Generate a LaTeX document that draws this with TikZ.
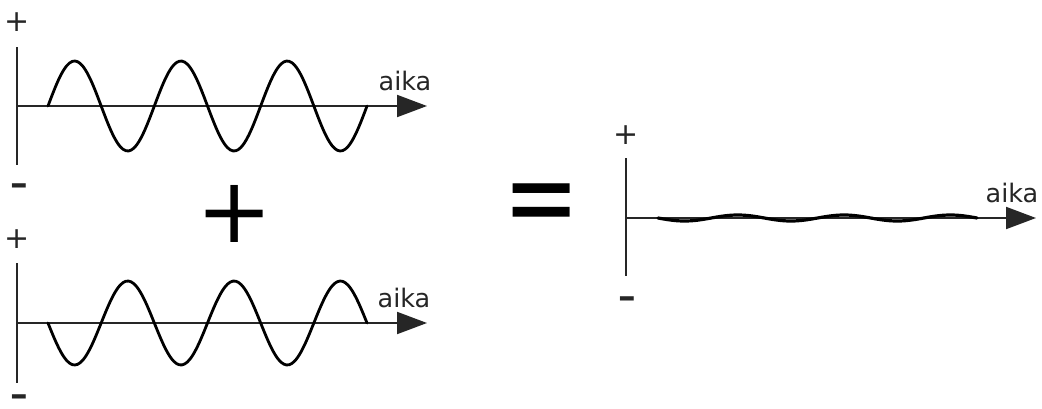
\documentclass[tikz,border=0pt]{standalone}
\usepackage{fontspec}
\setmainfont{DejaVu Sans}
\usetikzlibrary{arrows.meta}
\begin{document}
\begin{tikzpicture}[x=1pt,y=-1pt,
  axisline/.style={line width=2pt, draw=black!85},
  timeaxis/.style={axisline, -{Triangle[length=30pt,width=22pt]}},
  wave/.style={line width=2.8pt, line join=round, line cap=round},
  flatwave/.style={line width=3.2pt, line join=round, line cap=round},
  lbl/.style={inner sep=0pt, anchor=base, font=\fontsize{25.5}{30}\selectfont, text=black!85},
  plussign/.style={inner sep=0pt, font=\fontsize{30}{34}\selectfont, text=black!85},
  minussign/.style={inner sep=0pt, anchor=base, xscale=1.5, font=\fontsize{30}{34}\selectfont\bfseries, text=black!85},
  bigop/.style={inner sep=0pt, font=\fontsize{91}{100}\selectfont}]
\useasboundingbox (0,0) rectangle (1042,408);
\fill[white] (0,0) rectangle (1042,408);

% ---- top graph
\coordinate (a1top) at (17,47);
\coordinate (a1bot) at (17,165);
\coordinate (a1org) at (17,106);
\coordinate (a1end) at (427,106);
\draw[axisline] (a1top) -- (a1bot);
\draw[timeaxis] (a1org) -- (a1end);
\draw[wave] plot[domain=48:367, samples=120, smooth] (\x, {106-45*sin((\x-48)*3.3854)});
\node[plussign] (p1) at (17,22) {+};
\node[minussign] (m1) at (19,194) {-};
\node[lbl] (t1) at (405,90) {aika};

% ---- bottom graph
\coordinate (a2top) at (17,263);
\coordinate (a2bot) at (17,383);
\coordinate (a2org) at (17,323);
\coordinate (a2end) at (427,323);
\draw[axisline] (a2top) -- (a2bot);
\draw[timeaxis] (a2org) -- (a2end);
\draw[wave] plot[domain=48:367, samples=120, smooth] (\x, {323+42*sin((\x-48)*3.3854)});
\node[plussign] (p2) at (17,239) {+};
\node[minussign] (m2) at (19,405) {-};
\node[lbl] (t2) at (404,307) {aika};

% ---- operators
\node[bigop] (plusop) at (235,214) {+};
\node[bigop, yscale=1.3] (eqop) at (542,211) {=};

% ---- result graph
\coordinate (a3top) at (626,158);
\coordinate (a3bot) at (626,276);
\coordinate (a3org) at (626,218);
\coordinate (a3end) at (1036,218);
\draw[axisline] (a3top) -- (a3bot);
\draw[timeaxis] (a3org) -- (a3end);
\draw[flatwave] plot[domain=658:977, samples=120, smooth] (\x, {218+3*sin((\x-658)*3.3854)});
\node[plussign] (p3) at (626,135) {+};
\node[minussign] (m3) at (627,307) {-};
\node[lbl] (t3) at (1012,202) {aika};
\end{tikzpicture}
\end{document}
